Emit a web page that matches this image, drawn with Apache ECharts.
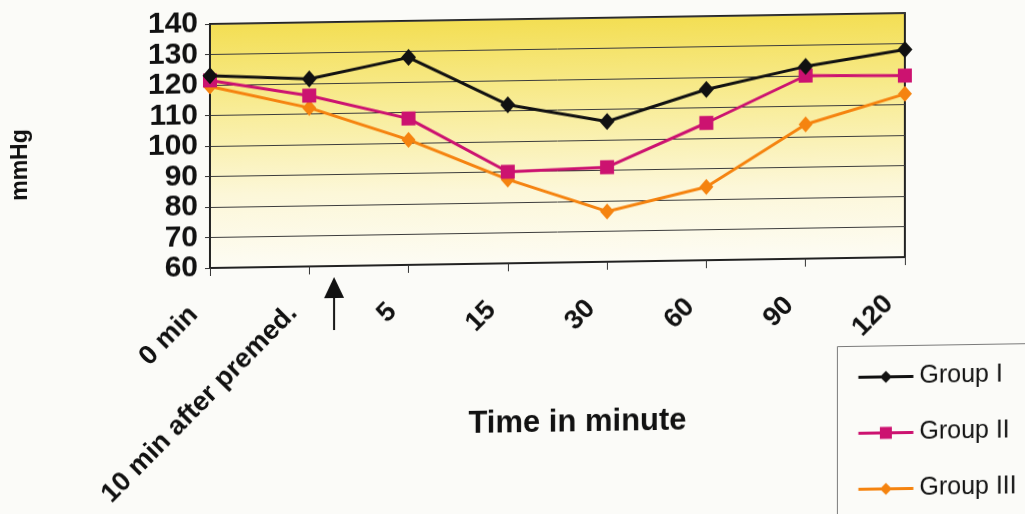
<!DOCTYPE html>
<html>
<head>
<meta charset="utf-8">
<script src="https://cdn.jsdelivr.net/npm/echarts@6/dist/echarts.min.js"></script>
<style>
  html, body { margin: 0; padding: 0; background: #fbfbf8; overflow: hidden; width: 1025px; height: 514px; }
  /* the whole drawing leans slightly uphill to the right; the canvas is
     a little larger than the window so the lean never exposes its edges */
  #chart { width: 1100px; height: 560px; transform: skewY(-0.9deg); transform-origin: 210px 146px; }
</style>
</head>
<body>
<div id="chart"></div>
<script>
// Time points along the x axis
const categories = ['0 min', '10 min after premed.', '5', '15', '30', '60', '90', '120'];

// Mean arterial pressure (mmHg) per group
const groupI   = [123, 121.5, 128, 112, 106, 116, 123, 128];
const groupII  = [121.5, 116, 108, 90, 91, 105, 120, 119.5];
const groupIII = [119.5, 112, 101, 87.5, 76.5, 84, 104, 113.5];

// Value axis range and step
const yMin = 60, yMax = 140, yStep = 10;

const seriesNames  = ['Group I', 'Group II', 'Group III'];
const seriesColors = ['#111111', '#cc1270', '#f5830f'];
const seriesSymbols = [['diamond', [15, 17]], ['rect', [14, 14]], ['diamond', [14, 16]]];
const seriesData = [groupI, groupII, groupIII];

const FONT = '"Liberation Sans", Arial, sans-serif';

const chart = echarts.init(document.getElementById('chart'), null, { renderer: 'canvas' });

const legendFrame = {
  type: 'rect',
  shape: { x: 837.5, y: 356.5, width: 300, height: 300 },
  style: { fill: 'none', stroke: '#7a7a7a', lineWidth: 1 },
  silent: true
};

const option = {
  backgroundColor: 'transparent',
  animation: false,
  textStyle: { fontFamily: FONT, color: '#111' },
  grid: {
    left: 210, width: 695, top: 24, height: 244,
    outerBoundsMode: 'none',
    containLabel: false,
    show: true,
    borderColor: '#222', borderWidth: 2,
    backgroundColor: {
      type: 'linear', x: 0, y: 0, x2: 0, y2: 1,
      colorStops: [
        { offset: 0, color: '#f3de52' },
        { offset: 0.35, color: '#f8ec96' },
        { offset: 0.7, color: '#fcf7d8' },
        { offset: 1, color: '#fdfcf4' }
      ]
    }
  },
  legend: {
    orient: 'vertical',
    left: 837, top: 356,
    width: 220, height: 320,
    padding: [19, 20, 20, 20],
    itemGap: 31,
    itemWidth: 55, itemHeight: 15,
    borderWidth: 0,
    backgroundColor: 'transparent',
    lineStyle: { width: 3 },
    textStyle: { fontFamily: FONT, fontSize: 25, color: '#111', padding: [0, 0, 0, 1] },
    data: seriesNames
  },
  graphic: [legendFrame],
  xAxis: {
    type: 'category',
    data: categories,
    boundaryGap: false,
    name: 'Time in minute',
    nameLocation: 'middle',
    nameGap: 145,
    nameMoveOverlap: false,
    nameTextStyle: { fontFamily: FONT, fontSize: 31, fontWeight: 'bold', color: '#111', padding: [0, 0, 0, 40] },
    axisLine: { show: true, lineStyle: { color: '#222', width: 2 } },
    axisTick: { show: true, length: 8, lineStyle: { color: '#333', width: 1 } },
    axisLabel: {
      interval: 0, rotate: 45, margin: 26,
      padding: [0, 23, 0, 0],
      hideOverlap: false,
      fontFamily: FONT, fontSize: 27, fontWeight: 'bold', color: '#111'
    },
    splitLine: { show: false }
  },
  yAxis: {
    type: 'value',
    min: yMin, max: yMax, interval: yStep,
    name: 'mmHg',
    nameLocation: 'middle',
    nameRotate: 90,
    nameGap: 178,
    nameMoveOverlap: false,
    nameTextStyle: { fontFamily: FONT, fontSize: 23, fontWeight: 'bold', color: '#111', padding: [0, 32, 0, 0] },
    axisLine: { show: true, lineStyle: { color: '#222', width: 2 } },
    axisTick: { show: true, length: 5, lineStyle: { color: '#333' } },
    axisLabel: {
      margin: 12, showMinLabel: true, showMaxLabel: true, hideOverlap: false,
      fontFamily: FONT, fontSize: 30, fontWeight: 'bold', color: '#111'
    },
    splitLine: { show: true, lineStyle: { color: '#3c3c3c', width: 1 } }
  },
  series: seriesNames.map((name, i) => ({
    name,
    type: 'line',
    data: seriesData[i],
    symbol: seriesSymbols[i][0],
    symbolSize: seriesSymbols[i][1],
    showAllSymbol: true,
    lineStyle: { color: seriesColors[i], width: 3 },
    itemStyle: { color: seriesColors[i], borderWidth: 0 },
    z: 3 - i + 2
  }))
};

chart.setOption(option);

// Arrow marking the induction point, placed between the 2nd and 3rd time points
const x1 = chart.convertToPixel({ xAxisIndex: 0 }, 1);
const x2 = chart.convertToPixel({ xAxisIndex: 0 }, 2);
const axisY = chart.convertToPixel({ yAxisIndex: 0 }, yMin);
const ax = x1 + (x2 - x1) * 0.25;
const tipY = axisY + 11;
chart.setOption({
  graphic: [
    legendFrame,
    {
      type: 'polygon',
      shape: { points: [[ax, tipY], [ax - 10, tipY + 21], [ax + 10, tipY + 21]] },
      style: { fill: '#111' }
    },
    {
      type: 'line',
      shape: { x1: ax, y1: tipY + 18, x2: ax, y2: tipY + 53 },
      style: { stroke: '#111', lineWidth: 2 }
    }
  ]
});
</script>
</body>
</html>
